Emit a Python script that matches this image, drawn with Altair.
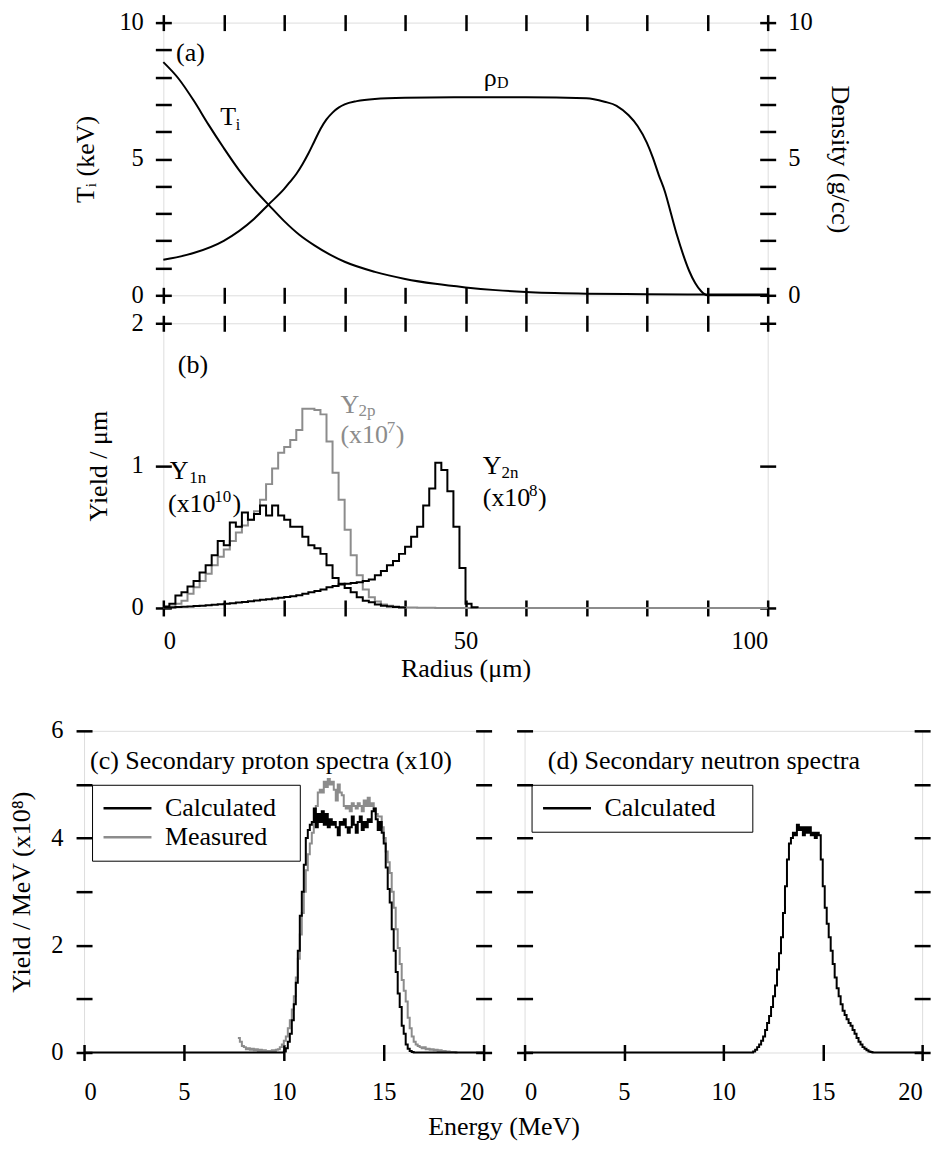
import altair as alt
import pandas as pd

FONT = "Liberation Serif"
GRAY = "#8c8c8c"
BLACK = "#000000"

# ---------------- panel (a): ion temperature and density vs radius ----------------
ti_radius = [0, 2.5, 5, 7.5, 10, 12.5, 15, 17.5, 20, 22.5, 25, 27.5, 30, 35, 40, 45, 50, 55, 60, 70, 80, 90, 100]
ti_kev = [8.55, 7.95, 7.15, 6.25, 5.4, 4.6, 3.9, 3.3, 2.72, 2.22, 1.83, 1.5, 1.23, 0.86, 0.6, 0.42, 0.29,
          0.19, 0.12, 0.06, 0.04, 0.03, 0.03]
rho_radius = [0, 5, 10, 15, 17.5, 20, 21, 22, 23, 24, 25, 26, 27, 28, 29, 30, 32, 35, 40, 50, 60, 70, 73, 75,
              77, 78.5, 80, 81, 82, 83, 84, 85, 86, 87, 88, 89, 90, 100]
rho_gcc = [1.3, 1.55, 2.0, 2.8, 3.35, 3.9, 4.17, 4.45, 4.8, 5.2, 5.65, 6.1, 6.45, 6.7, 6.88, 7.0, 7.12, 7.2,
           7.24, 7.26, 7.26, 7.23, 7.1, 6.95, 6.6, 6.2, 5.6, 5.05, 4.4, 3.8, 3.0, 2.2, 1.5, 0.9, 0.45, 0.15,
           0.0, 0.0]

# ---------------- panel (b): yield per um, 1-um radial bins ----------------
y1n_bins = [0.01, 0.03, 0.087, 0.11, 0.15, 0.19, 0.25, 0.30, 0.37, 0.47, 0.44, 0.60, 0.57, 0.67, 0.62, 0.66,
            0.72, 0.65, 0.72, 0.65, 0.62, 0.57, 0.57, 0.50, 0.44, 0.42, 0.38, 0.30, 0.21, 0.17, 0.14, 0.11,
            0.075, 0.05, 0.04, 0.025, 0.015, 0.01, 0.006, 0.003]
y2p_bins = [0.0, 0.01, 0.03, 0.05, 0.10, 0.145, 0.19, 0.24, 0.30, 0.36, 0.41, 0.47, 0.53, 0.58, 0.62, 0.68,
            0.76, 0.87, 0.98, 1.09, 1.13, 1.18, 1.25, 1.40, 1.40, 1.39, 1.36, 1.17, 0.95, 0.76, 0.55, 0.37,
            0.23, 0.13, 0.075, 0.045, 0.025, 0.015, 0.01, 0.006, 0.004, 0.003, 0.002, 0.002, 0.001]
y2n_bins = [0.002, 0.004, 0.006, 0.008, 0.01, 0.013, 0.016, 0.019, 0.022, 0.026, 0.03, 0.034, 0.038, 0.042,
            0.047, 0.052, 0.057, 0.062, 0.067, 0.072, 0.077, 0.083, 0.09, 0.1, 0.11, 0.12, 0.13, 0.145,
            0.155, 0.165, 0.17, 0.175, 0.18, 0.19, 0.2, 0.23, 0.26, 0.3, 0.33, 0.38, 0.43, 0.5, 0.57, 0.72,
            0.84, 1.02, 0.97, 0.82, 0.57, 0.28, 0.03, 0.005]

# ---------------- panel (c): secondary proton spectra (0.1 MeV bins) ----------------
BIN_MEV = 0.1
proton_calc_start = 10.0
proton_calc = [0.02, 0.08, 0.2, 0.35, 0.6, 0.9, 1.3, 1.9, 2.55, 3.0, 3.5, 4.0, 4.15, 4.25, 4.3, 4.55, 4.2,
               4.45, 4.3, 4.5, 4.25, 4.45, 4.2, 4.35, 4.25, 4.3, 4.2, 4.05, 4.3, 4.25, 4.35, 4.2, 4.1, 4.2,
               4.4, 4.25, 4.1, 4.3, 4.4, 4.15, 4.3, 4.2, 4.35, 4.3, 4.5, 4.55, 4.35, 4.15, 4.3, 4.1, 3.9,
               3.45, 3.05, 2.8, 2.3, 1.9, 1.5, 1.1, 0.85, 0.5, 0.35, 0.15, 0.07, 0.03, 0.01, 0.0]
proton_meas_start = 7.7
proton_meas = [0.27, 0.2, 0.12, 0.1, 0.06, 0.08, 0.05, 0.07, 0.04, 0.06, 0.03, 0.05, 0.03, 0.04, 0.02, 0.03,
               0.02, 0.04, 0.03, 0.05, 0.06, 0.1, 0.15, 0.22, 0.3, 0.45, 0.6, 0.8, 1.05, 1.4, 1.75, 2.2, 2.6,
               3.0, 3.4, 3.7, 3.9, 4.1, 4.3, 4.6, 4.85, 4.9, 4.85, 5.05, 4.95, 5.1, 5.0, 5.05, 4.9, 4.7, 5.0,
               4.85, 4.8, 4.6, 4.55, 4.6, 4.5, 4.65, 4.6, 4.55, 4.65, 4.6, 4.5, 4.7, 4.6, 4.75, 4.6, 4.65,
               4.55, 4.45, 4.4, 4.4, 4.2, 4.0, 3.75, 3.55, 3.35, 3.0, 2.7, 2.3, 1.95, 1.65, 1.35, 1.15, 0.95,
               0.65, 0.45, 0.3, 0.2, 0.15, 0.12, 0.1, 0.08, 0.1, 0.06, 0.07, 0.05, 0.06, 0.04, 0.05, 0.03,
               0.04, 0.02, 0.03, 0.02, 0.02, 0.01, 0.01, 0.01, 0.0]

# ---------------- panel (d): secondary neutron spectrum (0.1 MeV bins) ----------------
neutron_calc_start = 11.5
neutron_calc = [0.02, 0.05, 0.1, 0.15, 0.22, 0.3, 0.42, 0.55, 0.68, 0.85, 1.05, 1.25, 1.55, 1.85, 2.15, 2.6,
                3.1, 3.6, 3.9, 4.0, 4.1, 4.05, 4.25, 4.15, 4.2, 4.05, 4.2, 4.1, 4.2, 4.05, 4.1, 4.0, 4.1,
                4.05, 3.6, 3.1, 2.7, 2.4, 2.15, 1.9, 1.65, 1.4, 1.2, 1.05, 0.9, 0.78, 0.7, 0.62, 0.55, 0.5,
                0.42, 0.35, 0.27, 0.2, 0.15, 0.1, 0.07, 0.04, 0.02, 0.01, 0.0]

# tick lists
radius_ticks = list(range(0, 101, 10))
temp_ticks = list(range(0, 11))
yield_ticks = [0, 1, 2]
energy_ticks = [0, 5, 10, 15, 20]
spec_ticks = list(range(0, 7))


# ---------------- helpers ----------------
def axis(**kw):
    base = dict(domain=False, grid=False, tickSize=16, offset=-8, tickWidth=2.5, tickColor=BLACK,
                labelFont=FONT, labelFontSize=24.5, labelColor=BLACK, labelPadding=12,
                titleFont=FONT, titleFontSize=26, titleFontWeight="normal", titleColor=BLACK)
    base.update(kw)
    return alt.Axis(**base)


def radial_steps(vals, end_value=0.0):
    xs = list(range(len(vals) + 1))
    ys = list(vals) + [end_value]
    return pd.DataFrame({"x": xs, "y": ys})


def energy_steps(start, vals, series, lead_zero=False, tail=None):
    xs = [round(start + BIN_MEV * i, 2) for i in range(len(vals))]
    ys = list(vals)
    xs.append(round(start + BIN_MEV * len(vals), 2))
    ys.append(ys[-1])
    if lead_zero:
        xs = [0.0] + xs
        ys = [0.0] + ys
    if tail is not None:
        xs.append(tail)
        ys.append(0.0)
    return pd.DataFrame({"x": xs, "y": ys, "s": series})


def texts(labels, xs, ys):
    return pd.DataFrame({"x": xs, "y": ys, "t": labels})


def text_layer(df, size, color, xs, ys, xaxis=None, yaxis=None):
    return alt.Chart(df).mark_text(align="left", baseline="alphabetic", font=FONT, fontSize=size,
                                   color=color).encode(
        x=alt.X("x:Q", scale=xs, axis=xaxis), y=alt.Y("y:Q", scale=ys, axis=yaxis), text="t:N")


# ---------------- panel (a) ----------------
xa = alt.Scale(domain=[0, 100], nice=False)
ya = alt.Scale(domain=[0, 10], nice=False)
five_only = "datum.value % 5 == 0 ? datum.label : ''"

ti_line = alt.Chart(pd.DataFrame({"x": ti_radius, "y": ti_kev})).mark_line(
    color=BLACK, strokeWidth=2, interpolate="monotone").encode(
    x=alt.X("x:Q", scale=xa, axis=axis(orient="bottom", values=radius_ticks, labels=False, title=None)),
    y=alt.Y("y:Q", scale=ya, axis=axis(orient="left", values=temp_ticks, labelExpr=five_only,
                                        title="Tᵢ (keV)", titlePadding=20)))
rho_line = alt.Chart(pd.DataFrame({"x": rho_radius, "y": rho_gcc})).mark_line(
    color=BLACK, strokeWidth=2, interpolate="monotone").encode(
    x=alt.X("x:Q", scale=xa, axis=axis(orient="top", values=radius_ticks, labels=False, title=None)),
    y=alt.Y("y:Q", scale=ya, axis=axis(orient="right", values=temp_ticks, labelExpr=five_only,
                                        title="Density (g/cc)", titlePadding=14)))
a_main = text_layer(texts(["(a)", "T", "ρ"], [2.1, 9.4, 53.0], [8.6, 6.24, 7.66]), 26, BLACK, xa, ya)
a_sub = text_layer(texts(["i", "D"], [12.0, 55.2], [6.08, 7.6]), 16, BLACK, xa, ya)

panel_a = alt.layer(ti_line, rho_line, a_main, a_sub).resolve_axis(
    x="independent", y="independent").properties(width=605, height=273)

# ---------------- panel (b) ----------------
xb = alt.Scale(domain=[0, 100], nice=False)
yb = alt.Scale(domain=[0, 2], nice=False)

y2p_full = y2p_bins + [0.0] * (100 - len(y2p_bins))
b_y2p = alt.Chart(radial_steps(y2p_full)).mark_line(
    color=GRAY, strokeWidth=2, interpolate="step-after").encode(
    x=alt.X("x:Q", scale=xb, axis=axis(orient="bottom", values=radius_ticks,
                                        labelExpr="datum.value % 50 == 0 ? datum.label : ''",
                                        labelPadding=14, title="Radius (μm)", titlePadding=2)),
    y=alt.Y("y:Q", scale=yb, axis=axis(orient="left", values=yield_ticks,
                                        labelExpr="format(datum.value, 'd')",
                                        title="Yield / μm", titlePadding=20)))
b_y1n = alt.Chart(radial_steps(y1n_bins)).mark_line(
    color=BLACK, strokeWidth=2, interpolate="step-after").encode(
    x=alt.X("x:Q", scale=xb, axis=None), y=alt.Y("y:Q", scale=yb, axis=None))
b_y2n = alt.Chart(radial_steps(y2n_bins)).mark_line(
    color=BLACK, strokeWidth=2, interpolate="step-after").encode(
    x=alt.X("x:Q", scale=xb, axis=None), y=alt.Y("y:Q", scale=yb, axis=None))

b_main = text_layer(
    texts(["(b)", "Y", "(x10", ")", "Y", "(x10", ")"],
          [2.4, 1.05, 0.77, 11.44, 52.85, 52.85, 61.99],
          [1.654, 0.905, 0.672, 0.672, 0.94, 0.718, 0.718]),
    26, BLACK, xb, yb,
    xaxis=axis(orient="top", values=radius_ticks, labels=False, title=None),
    yaxis=axis(orient="right", values=yield_ticks, labels=False, title=None))
b_small = text_layer(texts(["1n", "10", "2n", "8"], [4.3, 8.43, 55.97, 60.51], [0.875, 0.742, 0.91, 0.788]),
                     17, BLACK, xb, yb)
b_gray = text_layer(texts(["Y", "(x10", ")"], [29.3, 29.3, 38.44], [1.373, 1.158, 1.158]), 26, GRAY, xb, yb)
b_gray_small = text_layer(texts(["2p", "7"], [32.3, 36.96], [1.35, 1.228]), 17, GRAY, xb, yb)

panel_b = alt.layer(b_y2p, b_y1n, b_y2n, b_main, b_small, b_gray, b_gray_small).resolve_axis(
    x="independent", y="independent").properties(width=605, height=285)

# ---------------- panel (c) ----------------
xe = alt.Scale(domain=[0, 20], nice=False)
ys = alt.Scale(domain=[0, 6], nice=False)


def spec_legend(x, y, pad_spaces):
    # non-breaking spaces widen the legend box; a zero-width space keeps them from being trimmed
    return alt.Legend(title=None, orient="none", legendX=x, legendY=y, symbolType="M-1,0H3",
                      symbolSize=576, symbolStrokeWidth=2.5, labelFont=FONT, labelFontSize=26,
                      labelColor=BLACK, strokeColor=BLACK, padding=10, rowPadding=2, labelOffset=36,
                      labelLimit=400,
                      labelExpr="datum.label + '" + "\u00a0" * pad_spaces + "\u200b'")


c_color = alt.Color("s:N", scale=alt.Scale(domain=["Calculated", "Measured"], range=[BLACK, GRAY]),
                    legend=spec_legend(8, 54, 2))

c_meas = alt.Chart(energy_steps(proton_meas_start, proton_meas, "Measured")).mark_line(
    strokeWidth=2, interpolate="step-after").encode(
    x=alt.X("x:Q", scale=xe, axis=axis(orient="bottom", values=energy_ticks, labelPadding=20, title=None)),
    y=alt.Y("y:Q", scale=ys, axis=axis(orient="left", values=spec_ticks,
                                        labelExpr="datum.value % 2 == 0 ? datum.label : ''",
                                        labelPadding=13, title="Yield / MeV (x10⁸)", titlePadding=16)),
    color=c_color)
c_calc = alt.Chart(energy_steps(proton_calc_start, proton_calc, "Calculated", lead_zero=True, tail=20.0)).mark_line(
    strokeWidth=2, interpolate="step-after").encode(
    x=alt.X("x:Q", scale=xe, axis=None), y=alt.Y("y:Q", scale=ys, axis=None), color=c_color)
c_text = text_layer(texts(["(c) Secondary proton spectra (x10)"], [0.3], [5.28]), 26, BLACK, xe, ys,
                    yaxis=axis(orient="right", values=spec_ticks, labels=False, title=None))

panel_c = alt.layer(c_meas, c_calc, c_text).resolve_axis(
    x="independent", y="independent").properties(width=400, height=322)

# ---------------- panel (d) ----------------
d_color = alt.Color("s:N", scale=alt.Scale(domain=["Calculated"], range=[BLACK]), legend=spec_legend(7, 54, 4))
d_calc = alt.Chart(energy_steps(neutron_calc_start, neutron_calc, "Calculated", lead_zero=True, tail=20.0)).mark_line(
    strokeWidth=2, interpolate="step-after").encode(
    x=alt.X("x:Q", scale=xe, axis=axis(orient="bottom", values=energy_ticks, labelPadding=20, title=None)),
    y=alt.Y("y:Q", scale=ys, axis=axis(orient="left", values=spec_ticks, labels=False, title=None)),
    color=d_color)
d_text = text_layer(texts(["(d) Secondary neutron spectra"], [1.17], [5.28]), 26, BLACK, xe, ys,
                    yaxis=axis(orient="right", values=spec_ticks, labels=False, title=None))

panel_d = alt.layer(d_calc, d_text).resolve_axis(
    x="independent", y="independent").properties(width=398, height=322)

# ---------------- layout ----------------
top = alt.vconcat(panel_a, panel_b, spacing=28, bounds="flush")
bottom = alt.hconcat(panel_c, panel_d, spacing=41, bounds="flush").resolve_scale(color="independent").properties(
    title=alt.TitleParams("Energy (MeV)", orient="bottom", anchor="middle", font=FONT, fontSize=26,
                          fontWeight="normal", color=BLACK, offset=10, dx=34))

chart = alt.vconcat(top, bottom, spacing=35, center=True).properties(
    padding={"left": 0, "top": 0, "right": 0, "bottom": 5}
).configure_view(stroke=BLACK, strokeWidth=2.5).configure(font=FONT)

chart.save("out.html", embed_options={"renderer": "svg", "actions": False})
